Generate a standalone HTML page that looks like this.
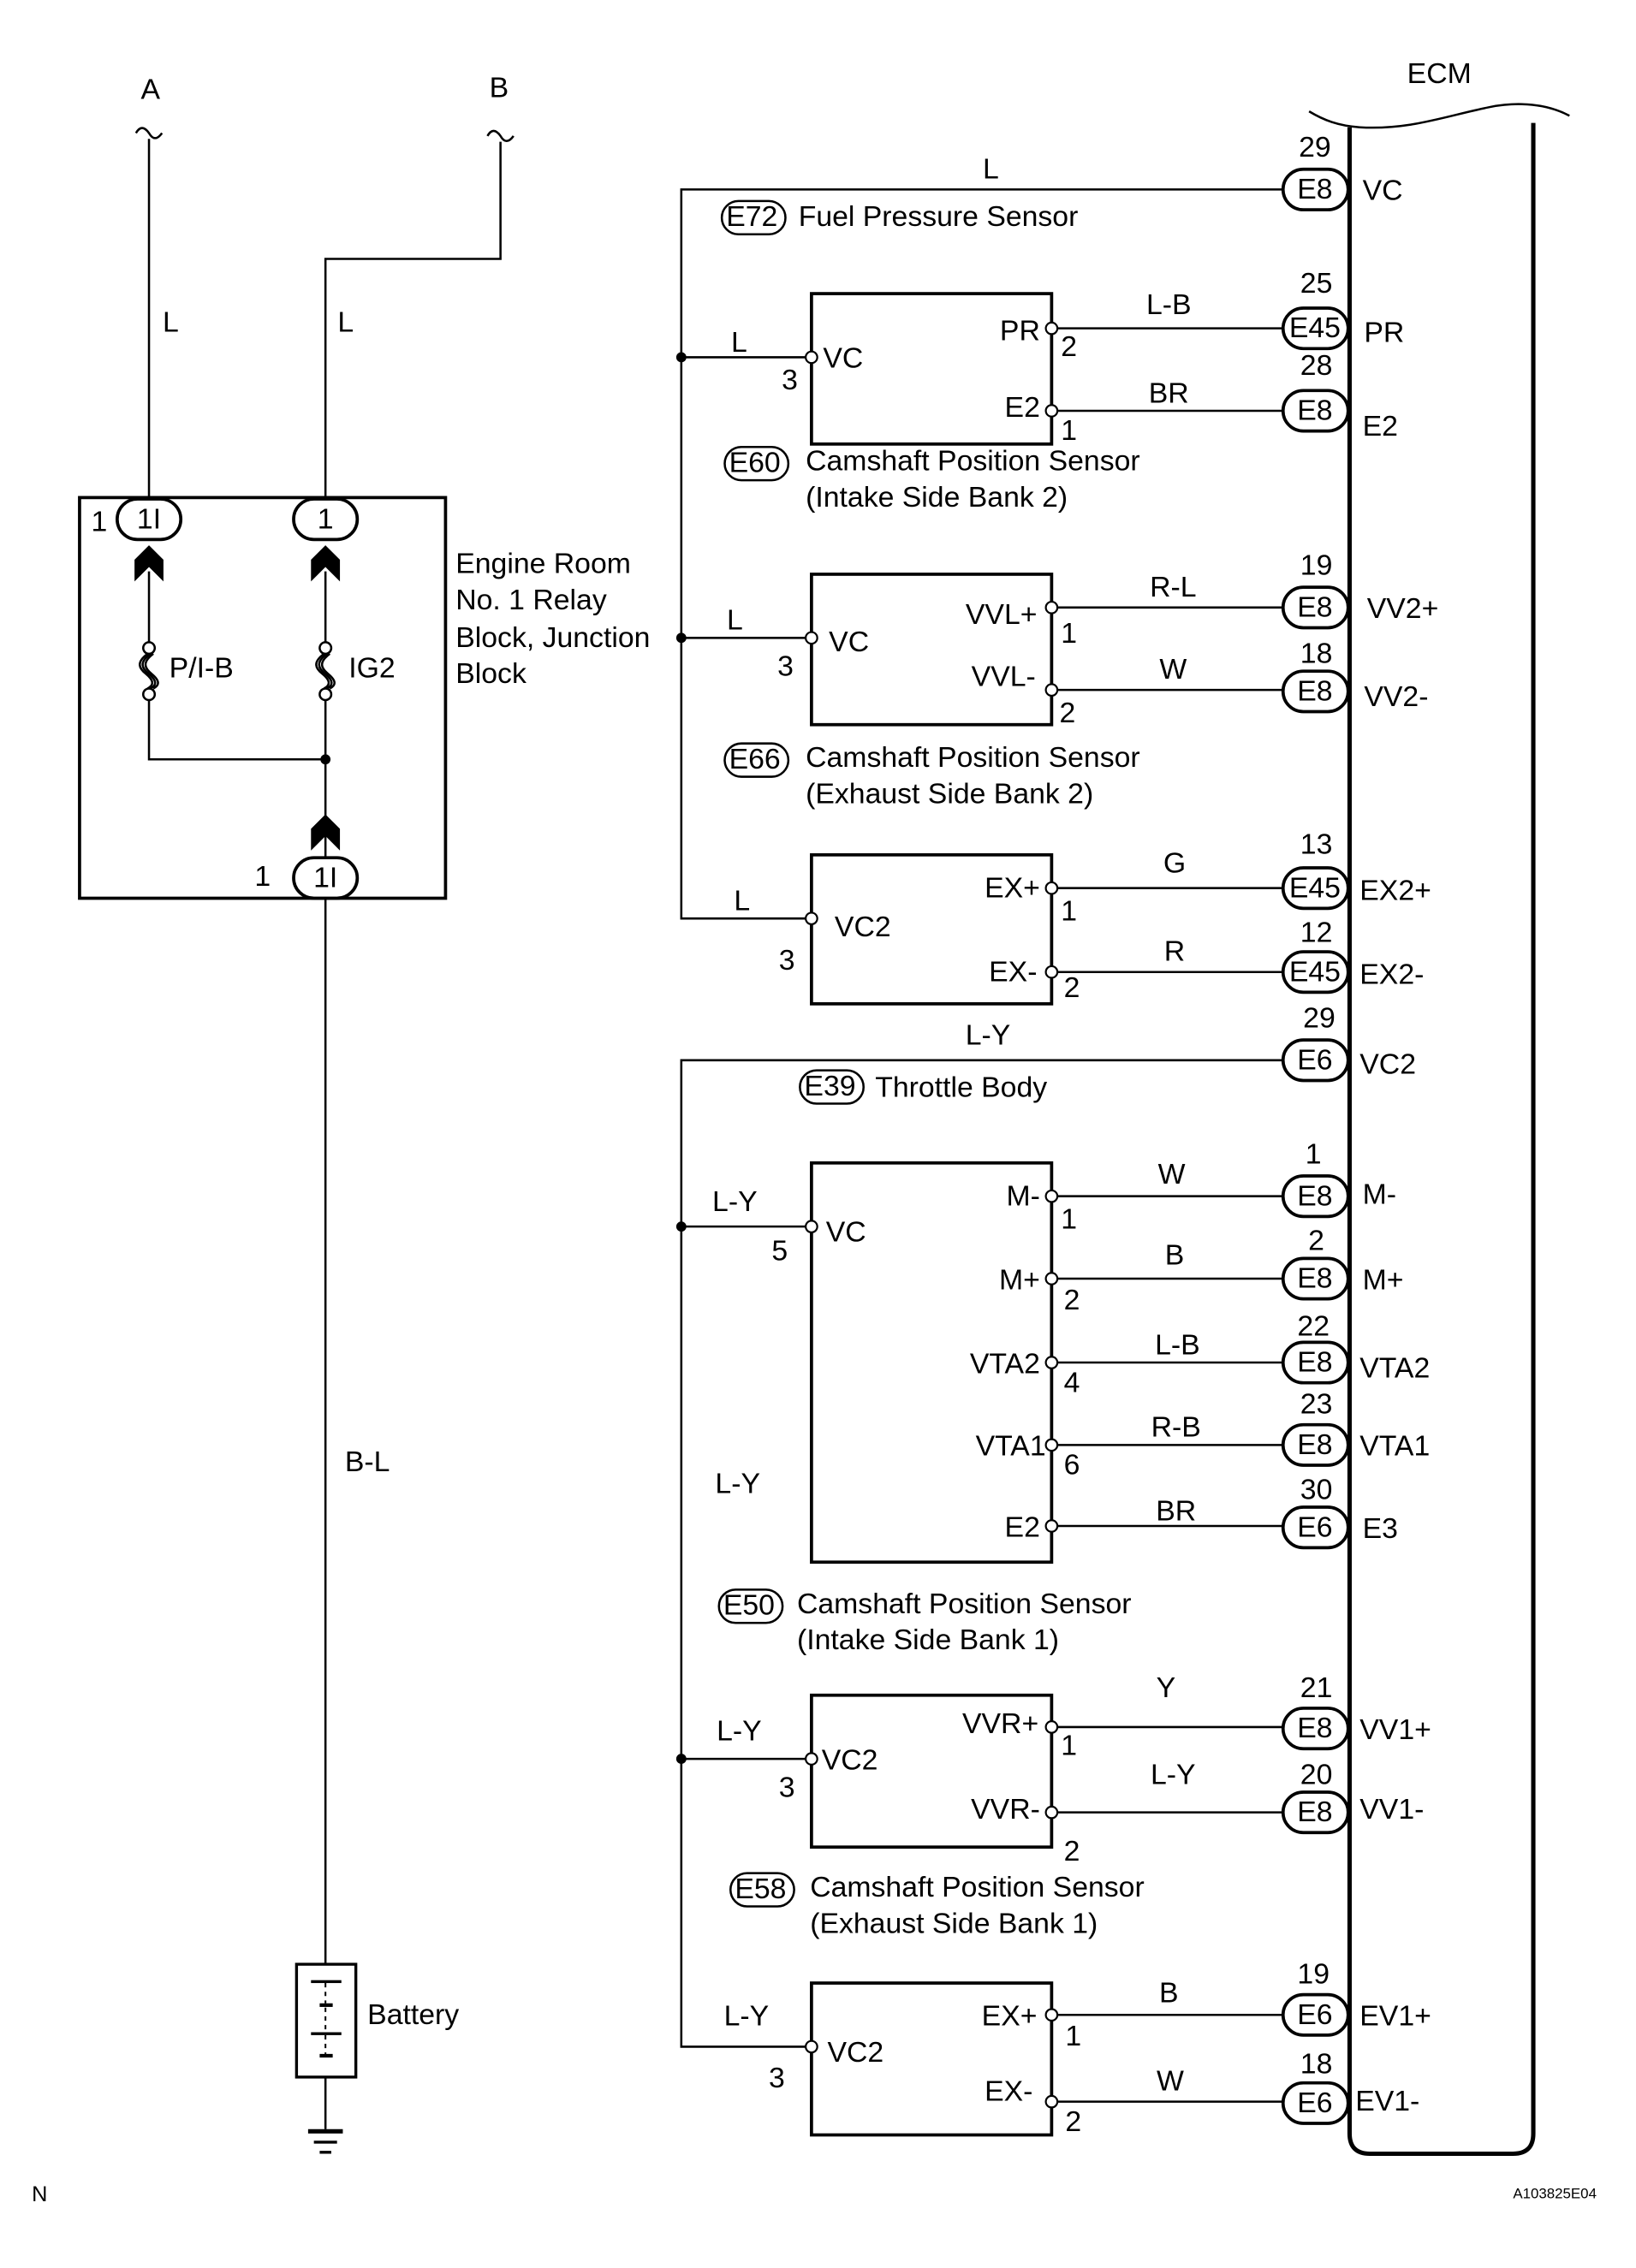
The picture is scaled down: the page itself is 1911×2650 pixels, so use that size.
<!DOCTYPE html>
<html><head><meta charset="utf-8"><style>
html,body{margin:0;padding:0;background:#fff;}
svg{display:block;}
text{font-family:"Liberation Sans",Arial,sans-serif;font-size:20px;fill:#000;dominant-baseline:middle;}
</style></head><body>
<svg width="1911" height="2650" viewBox="0 0 1131 1568" preserveAspectRatio="none" xmlns="http://www.w3.org/2000/svg">
<defs>
<g id="chev"><polygon points="-10,10 0,0 10,10 10,25 0,15 -10,25" fill="#000"/></g>
<g id="fuse" fill="none" stroke="#000" stroke-width="1.5">
<circle cx="0" cy="0" r="4" fill="#fff"/><circle cx="0" cy="32" r="4" fill="#fff"/>
<path d="M-1,4 C-9,10 -7,14 -2,18 C4,23 3,26 -1,28"/>
<path d="M1,4 C-7,10 -5,14 0,18 C6,23 5,26 1,28"/>
<path d="M3,4 C-5,10 -3,14 2,18 C8,23 7,26 3,28"/>
</g>
</defs>
<g stroke="#000" fill="none" stroke-width="1.5">
<path d="M94,92 q4,-7 9,0 q4,7 9,0"/>
<path d="M337,94 q4,-7 9,0 q4,7 9,0"/>
<line x1="103" y1="96" x2="103" y2="345"/>
<polyline points="346,98 346,179 225,179 225,345"/>
<rect x="55" y="344" width="253" height="277" stroke-width="2.2"/>
<line x1="103" y1="395" x2="103" y2="448"/>
<line x1="225" y1="395" x2="225" y2="448"/>
<polyline points="103,480 103,525 225,525"/>
<line x1="225" y1="480" x2="225" y2="595"/>
<line x1="225" y1="621" x2="225" y2="1358"/>
<rect x="205" y="1358" width="41" height="78" stroke-width="2"/>
<line x1="225" y1="1436" x2="225" y2="1472"/>
<polyline points="888,131 471,131 471,635 561,635"/>
<line x1="471" y1="247" x2="561" y2="247"/>
<line x1="471" y1="441" x2="561" y2="441"/>
<polyline points="888,733 471,733 471,1415 561,1415"/>
<line x1="471" y1="848" x2="561" y2="848"/>
<line x1="471" y1="1216" x2="561" y2="1216"/>
<g stroke-width="2.2">
<rect x="561" y="203" width="166" height="104"/>
<rect x="561" y="397" width="166" height="104"/>
<rect x="561" y="591" width="166" height="103"/>
<rect x="561" y="804" width="166" height="276"/>
<rect x="561" y="1172" width="166" height="105"/>
<rect x="561" y="1371" width="166" height="105"/>
</g>
<g>
<line x1="727" y1="227" x2="888" y2="227"/><line x1="727" y1="284" x2="888" y2="284"/>
<line x1="727" y1="420" x2="888" y2="420"/><line x1="727" y1="477" x2="888" y2="477"/>
<line x1="727" y1="614" x2="888" y2="614"/><line x1="727" y1="672" x2="888" y2="672"/>
<line x1="727" y1="827" x2="888" y2="827"/><line x1="727" y1="884" x2="888" y2="884"/>
<line x1="727" y1="942" x2="888" y2="942"/><line x1="727" y1="999" x2="888" y2="999"/>
<line x1="727" y1="1055" x2="888" y2="1055"/>
<line x1="727" y1="1194" x2="888" y2="1194"/><line x1="727" y1="1253" x2="888" y2="1253"/>
<line x1="727" y1="1393" x2="888" y2="1393"/><line x1="727" y1="1453" x2="888" y2="1453"/>
</g>
<path d="M933,88 L933,1475 Q933,1489 947,1489 L1046,1489 Q1060,1489 1060,1475 L1060,85" stroke-width="3"/>
<path d="M905,77 C915,83 925,87 940,88 C975,90 1000,80 1030,74 C1050,70 1070,72 1085,80" stroke-width="1.5"/>
</g>
<g fill="#000">
<rect x="213" y="1472" width="24" height="3"/><rect x="217" y="1480" width="16" height="2"/><rect x="221" y="1487" width="8" height="2"/>
<rect x="215" y="1369" width="21" height="2"/><rect x="221" y="1385" width="9" height="2.5"/>
<rect x="215" y="1405" width="21" height="2"/><rect x="221" y="1420" width="9" height="2.5"/>
</g>
<line x1="225" y1="1371" x2="225" y2="1385" stroke="#000" stroke-width="1.2" stroke-dasharray="3,3"/>
<line x1="225" y1="1388" x2="225" y2="1405" stroke="#000" stroke-width="1.2" stroke-dasharray="3,3"/>
<line x1="225" y1="1407" x2="225" y2="1420" stroke="#000" stroke-width="1.2" stroke-dasharray="3,3"/>
<use href="#chev" x="103" y="377"/>
<use href="#chev" x="225" y="377"/>
<use href="#chev" x="225" y="563"/>
<use href="#fuse" x="103" y="448"/>
<use href="#fuse" x="225" y="448"/>
<g fill="#000">
<circle cx="225" cy="525" r="3.5"/>
<circle cx="471" cy="247" r="3.5"/><circle cx="471" cy="441" r="3.5"/>
<circle cx="471" cy="848" r="3.5"/><circle cx="471" cy="1216" r="3.5"/>
</g>
<g fill="#fff" stroke="#000" stroke-width="1.3">
<circle cx="561" cy="247" r="4"/><circle cx="727" cy="227" r="4"/><circle cx="727" cy="284" r="4"/>
<circle cx="561" cy="441" r="4"/><circle cx="727" cy="420" r="4"/><circle cx="727" cy="477" r="4"/>
<circle cx="561" cy="635" r="4"/><circle cx="727" cy="614" r="4"/><circle cx="727" cy="672" r="4"/>
<circle cx="561" cy="848" r="4"/><circle cx="727" cy="827" r="4"/><circle cx="727" cy="884" r="4"/>
<circle cx="727" cy="942" r="4"/><circle cx="727" cy="999" r="4"/><circle cx="727" cy="1055" r="4"/>
<circle cx="561" cy="1216" r="4"/><circle cx="727" cy="1194" r="4"/><circle cx="727" cy="1253" r="4"/>
<circle cx="561" cy="1415" r="4"/><circle cx="727" cy="1393" r="4"/><circle cx="727" cy="1453" r="4"/>
</g>
<g fill="#fff" stroke="#000" stroke-width="2.2">
<rect x="81" y="345" width="44" height="28" rx="14"/>
<rect x="203" y="345" width="44" height="28" rx="14"/>
<rect x="203" y="593" width="44" height="28" rx="14"/>
<rect x="887" y="117" width="45" height="28" rx="14"/>
<rect x="887" y="213" width="45" height="28" rx="14"/>
<rect x="887" y="270" width="45" height="28" rx="14"/>
<rect x="887" y="406" width="45" height="28" rx="14"/>
<rect x="887" y="464" width="45" height="28" rx="14"/>
<rect x="887" y="600" width="45" height="28" rx="14"/>
<rect x="887" y="658" width="45" height="28" rx="14"/>
<rect x="887" y="719" width="45" height="28" rx="14"/>
<rect x="887" y="813" width="45" height="28" rx="14"/>
<rect x="887" y="870" width="45" height="28" rx="14"/>
<rect x="887" y="928" width="45" height="28" rx="14"/>
<rect x="887" y="985" width="45" height="28" rx="14"/>
<rect x="887" y="1042" width="45" height="28" rx="14"/>
<rect x="887" y="1181" width="45" height="28" rx="14"/>
<rect x="887" y="1239" width="45" height="28" rx="14"/>
<rect x="887" y="1379" width="45" height="28" rx="14"/>
<rect x="887" y="1440" width="45" height="28" rx="14"/>
</g>
<g fill="#fff" stroke="#000" stroke-width="1.5">
<rect x="499" y="139" width="44" height="23" rx="11.5"/>
<rect x="501" y="309" width="44" height="23" rx="11.5"/>
<rect x="501" y="514" width="44" height="23" rx="11.5"/>
<rect x="553" y="740" width="44" height="23" rx="11.5"/>
<rect x="497" y="1099" width="44" height="23" rx="11.5"/>
<rect x="505" y="1295" width="44" height="23" rx="11.5"/>
</g>
<g text-anchor="middle">
<text x="104" y="63">A</text><text x="345" y="62">B</text>
<text x="118" y="224">L</text><text x="239" y="224">L</text>
<text x="103" y="360">1I</text><text x="225" y="360">1</text><text x="225" y="608">1I</text>
<text x="995" y="52">ECM</text>
<text x="254" y="1012">B-L</text>
<text x="685" y="118">L</text><text x="683" y="717">L-Y</text>
<text x="510" y="1027">L-Y</text>
<g>
<text x="909" y="132">E8</text><text x="909" y="228">E45</text><text x="909" y="285">E8</text>
<text x="909" y="421">E8</text><text x="909" y="479">E8</text>
<text x="909" y="615">E45</text><text x="909" y="673">E45</text>
<text x="909" y="734">E6</text><text x="909" y="828">E8</text><text x="909" y="885">E8</text>
<text x="909" y="943">E8</text><text x="909" y="1000">E8</text><text x="909" y="1057">E6</text>
<text x="909" y="1196">E8</text><text x="909" y="1254">E8</text>
<text x="909" y="1394">E6</text><text x="909" y="1455">E6</text>
</g>
<g>
<text x="909" y="103">29</text><text x="910" y="197">25</text><text x="910" y="254">28</text>
<text x="910" y="392">19</text><text x="910" y="453">18</text><text x="910" y="585">13</text><text x="910" y="646">12</text>
<text x="912" y="705">29</text><text x="908" y="799">1</text><text x="910" y="859">2</text>
<text x="908" y="918">22</text><text x="910" y="972">23</text><text x="910" y="1031">30</text>
<text x="910" y="1168">21</text><text x="910" y="1228">20</text>
<text x="908" y="1366">19</text><text x="910" y="1428">18</text>
</g>
<g>
<text x="808" y="212">L-B</text><text x="808" y="273">BR</text>
<text x="811" y="407">R-L</text><text x="811" y="464">W</text>
<text x="812" y="598">G</text><text x="812" y="659">R</text>
<text x="810" y="813">W</text><text x="812" y="869">B</text><text x="814" y="931">L-B</text>
<text x="813" y="988">R-B</text><text x="813" y="1046">BR</text>
<text x="806" y="1168">Y</text><text x="811" y="1228">L-Y</text>
<text x="808" y="1379">B</text><text x="809" y="1440">W</text>
</g>
<g>
<text x="511" y="238">L</text><text x="546" y="264">3</text>
<text x="508" y="430">L</text><text x="543" y="462">3</text>
<text x="513" y="624">L</text><text x="544" y="665">3</text>
<text x="508" y="832">L-Y</text><text x="539" y="866">5</text>
<text x="511" y="1198">L-Y</text><text x="544" y="1237">3</text>
<text x="516" y="1395">L-Y</text><text x="537" y="1438">3</text>
<text x="739" y="241">2</text><text x="739" y="299">1</text>
<text x="739" y="439">1</text><text x="738" y="494">2</text>
<text x="739" y="631">1</text><text x="741" y="684">2</text>
<text x="739" y="844">1</text><text x="741" y="900">2</text><text x="741" y="957">4</text><text x="741" y="1014">6</text>
<text x="739" y="1208">1</text><text x="741" y="1281">2</text>
<text x="742" y="1409">1</text><text x="742" y="1468">2</text>
</g>
</g>
<g>
<text x="63" y="362">1</text><text x="176" y="607">1</text>
<text x="117" y="463">P/I-B</text><text x="241" y="463">IG2</text>
<text x="315" y="391">Engine Room</text><text x="315" y="416">No. 1 Relay</text>
<text x="315" y="442">Block, Junction</text><text x="315" y="467">Block</text>
<text x="254" y="1394">Battery</text>
<text x="502" y="151">E72</text><text x="552" y="151">Fuel Pressure Sensor</text>
<text x="504" y="321">E60</text><text x="557" y="320">Camshaft Position Sensor</text><text x="557" y="345">(Intake Side Bank 2)</text>
<text x="504" y="526">E66</text><text x="557" y="525">Camshaft Position Sensor</text><text x="557" y="550">(Exhaust Side Bank 2)</text>
<text x="556" y="752">E39</text><text x="605" y="753">Throttle Body</text>
<text x="500" y="1111">E50</text><text x="551" y="1110">Camshaft Position Sensor</text><text x="551" y="1135">(Intake Side Bank 1)</text>
<text x="508" y="1307">E58</text><text x="560" y="1306">Camshaft Position Sensor</text><text x="560" y="1331">(Exhaust Side Bank 1)</text>
<text x="569" y="249">VC</text><text x="573" y="445">VC</text><text x="577" y="642">VC2</text>
<text x="571" y="853">VC</text><text x="568" y="1218">VC2</text><text x="572" y="1420">VC2</text>
<text x="942" y="133">VC</text><text x="943" y="231">PR</text><text x="942" y="296">E2</text>
<text x="945" y="422">VV2+</text><text x="943" y="483">VV2-</text>
<text x="940" y="617">EX2+</text><text x="940" y="675">EX2-</text><text x="940" y="737">VC2</text>
<text x="942" y="827">M-</text><text x="942" y="886">M+</text><text x="940" y="947">VTA2</text><text x="940" y="1001">VTA1</text><text x="942" y="1058">E3</text>
<text x="940" y="1197">VV1+</text><text x="940" y="1252">VV1-</text>
<text x="940" y="1395">EV1+</text><text x="937" y="1454">EV1-</text>
<text x="22" y="1518" style="font-size:15px">N</text>
<text x="1046" y="1517" style="font-size:10px">A103825E04</text>
</g>
<g text-anchor="end">
<text x="719" y="230">PR</text><text x="719" y="283">E2</text>
<text x="717" y="426">VVL+</text><text x="716" y="469">VVL-</text>
<text x="719" y="615">EX+</text><text x="717" y="673">EX-</text>
<text x="719" y="828">M-</text><text x="719" y="886">M+</text><text x="719" y="944">VTA2</text><text x="723" y="1001">VTA1</text><text x="719" y="1057">E2</text>
<text x="718" y="1193">VVR+</text><text x="719" y="1252">VVR-</text>
<text x="717" y="1395">EX+</text><text x="714" y="1447">EX-</text>
</g>
</svg>
</body></html>
